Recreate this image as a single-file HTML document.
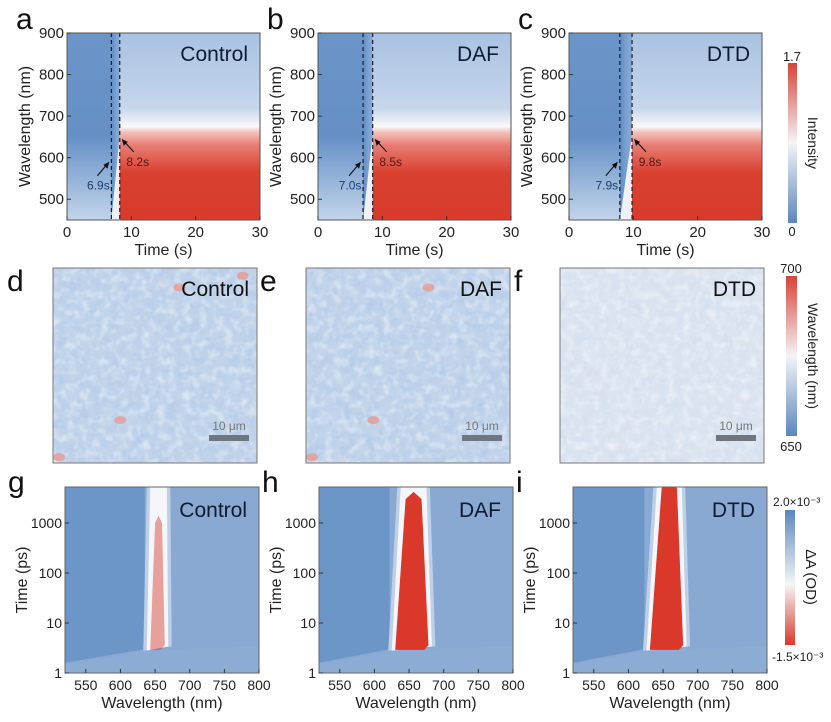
<!DOCTYPE html>
<html><head><meta charset="utf-8">
<style>
body{margin:0;background:#fff;width:831px;height:717px;overflow:hidden;font-family:"Liberation Sans",Arial,sans-serif;}
svg text{font-family:"Liberation Sans",Arial,sans-serif;}
</style></head>
<body>
<svg id="fig" width="831" height="717" xmlns="http://www.w3.org/2000/svg">
<defs>
  <linearGradient id="cbInt" x1="0" y1="1" x2="0" y2="0">
    <stop offset="0" stop-color="#5b86bd"/><stop offset="0.5" stop-color="#f4f4f6"/><stop offset="1" stop-color="#d8433a"/>
  </linearGradient>
  <linearGradient id="cbOD" x1="0" y1="1" x2="0" y2="0">
    <stop offset="0" stop-color="#d8392c"/><stop offset="0.45" stop-color="#f5f5f5"/><stop offset="1" stop-color="#5b86bd"/>
  </linearGradient>
  <linearGradient id="preGrad" x1="0" y1="0" x2="0" y2="1">
    <stop offset="0" stop-color="#6b95c8"/><stop offset="0.55" stop-color="#6590c6"/><stop offset="1" stop-color="#c2d4ea"/>
  </linearGradient>
  <linearGradient id="postGrad" x1="0" y1="0" x2="0" y2="1">
    <stop offset="0" stop-color="#a9c2e2"/><stop offset="0.4" stop-color="#c6d6ec"/><stop offset="0.5" stop-color="#fafafa"/>
    <stop offset="0.53" stop-color="#f3c2bc"/><stop offset="0.6" stop-color="#e87d73"/><stop offset="0.75" stop-color="#d9402f"/><stop offset="1" stop-color="#d83a2c"/>
  </linearGradient>
  <linearGradient id="taGrad" x1="0" y1="0" x2="1" y2="0">
    <stop offset="0" stop-color="#5f8cc4"/><stop offset="0.6" stop-color="#7ea3d2"/><stop offset="1" stop-color="#88aad4"/>
  </linearGradient>
  <filter id="noise1" x="0" y="0" width="100%" height="100%">
    <feTurbulence type="fractalNoise" baseFrequency="0.09" numOctaves="3" seed="3"/>
    <feColorMatrix type="matrix" values="0 0 0 0 0.45  0 0 0 0 0.6  0 0 0 0 0.82  0 0 0 1.8 -0.6"/>
  </filter>
  <filter id="noise1b" x="0" y="0" width="100%" height="100%">
    <feTurbulence type="fractalNoise" baseFrequency="0.12" numOctaves="2" seed="11"/>
    <feColorMatrix type="matrix" values="0 0 0 0 1  0 0 0 0 1  0 0 0 0 1  0 0 0 1.8 -0.8"/>
  </filter>
  <filter id="noise2" x="0" y="0" width="100%" height="100%">
    <feTurbulence type="fractalNoise" baseFrequency="0.09" numOctaves="3" seed="9"/>
    <feColorMatrix type="matrix" values="0 0 0 0 0.62  0 0 0 0 0.72  0 0 0 0 0.86  0 0 0 1.0 -0.35"/>
  </filter>
</defs>
</svg>
<script>
const panelLetters=['a','b','c'];
const sampleNames=['Control','DAF','DTD'];
const onsetTimes=[6.9,7.0,7.9];
const peakTimes=[8.2,8.5,9.8];
const redEdgeWl=[655,655,655];
const timeTicks=[0,10,20,30];
const wlTicks=[500,600,700,800,900];
const taLetters=['g','h','i'];
const bandLeftBottom=[643,630,631];
const bandRightBottom=[664,678,679];
const bandLeftTop=[650,645,648];
const bandRightTop=[660,668,670];
const bandTop=[1000,3000,5000];
const bandOpacity=[0.45,1,1];
const taWlTicks=[550,600,650,700,750,800];
const taTimeTicks=[1,10,100,1000];
const mapLetters=['d','e','f'];
const hotSpots=[[[0.62,0.1],[0.93,0.04],[0.03,0.97],[0.33,0.78]],[[0.6,0.1],[0.03,0.97],[0.33,0.78]],[]];

const svg=document.getElementById('fig');
const NS='http://www.w3.org/2000/svg';
function el(tag,attrs,parent,text){const e=document.createElementNS(NS,tag);for(const k in attrs)e.setAttribute(k,attrs[k]);if(text!==undefined)e.textContent=text;(parent||svg).appendChild(e);return e;}

// Row 1
const rowA={x0s:[67,318,569],w:193,y0:33,h:187};
for(let i=0;i<3;i++){
  const X0=rowA.x0s[i],W=rowA.w,Y0=rowA.y0,H=rowA.h;
  const xs=t=>X0+t/30*W, ys=w=>Y0+(900-w)/450*H;
  const g=el('g',{});
  
  
  let r=el('rect',{x:X0,y:Y0,width:xs(onsetTimes[i])-X0,height:H,fill:'url(#preGrad)'},g);
  
  r=el('rect',{x:xs(onsetTimes[i]),y:Y0,width:xs(peakTimes[i])-xs(onsetTimes[i]),height:H,fill:'url(#taGrad)'},g);
  
  el('polygon',{points:`${xs(onsetTimes[i])},${Y0+H} ${xs(peakTimes[i])},${ys(redEdgeWl[i])} ${xs(peakTimes[i])},${Y0+H}`,fill:'#eef2f8'},g);
  r=el('rect',{x:xs(peakTimes[i]),y:Y0,width:X0+W-xs(peakTimes[i]),height:H,fill:'url(#postGrad)'},g);
  
  [onsetTimes[i],peakTimes[i]].forEach(t=>{const l=el('line',{x1:xs(t),x2:xs(t),y1:Y0,y2:Y0+H,stroke:'#1a1a2a','stroke-width':1.2,'stroke-dasharray':'4,3'},g);});
  el('rect',{x:X0,y:Y0,width:W,height:H,fill:'none',stroke:'#555','stroke-width':1},g);
  timeTicks.forEach(t=>{el('line',{x1:xs(t),x2:xs(t),y1:Y0+H,y2:Y0+H-4,stroke:'#333'},g);el('text',{x:xs(t),y:Y0+H+17,'font-size':15,'text-anchor':'middle',fill:'#222'},g,t);});
  wlTicks.forEach(w=>{el('line',{x1:X0,x2:X0+4,y1:ys(w),y2:ys(w),stroke:'#333'},g);el('text',{x:X0-3,y:ys(w)+5,'font-size':15,'text-anchor':'end',fill:'#222'},g,w);});
  let t=el('text',{x:X0+W/2,y:Y0+H+35,'font-size':16,'text-anchor':'middle',fill:'#222'},g,'Time (s)');
  t=el('text',{x:X0-37,y:Y0+H/2,'font-size':16,'text-anchor':'middle',fill:'#222',transform:`rotate(-90 ${X0-37} ${Y0+H/2})`},g,'Wavelength (nm)');
  t=el('text',{x:X0+W-12,y:Y0+28,'font-size':21,'text-anchor':'end',fill:'#0d1b33'},g,sampleNames[i]);
  t=el('text',{x:X0-51,y:Y0-4,'font-size':30,fill:'#111'},g,panelLetters[i]);
  const ax=xs(onsetTimes[i]),ay=ys(595);
  el('line',{x1:ax-14,x2:ax-3,y1:ay+16,y2:ay+3,stroke:'#111','stroke-width':1.1},g);
  el('polygon',{points:`${ax-2},${ay+2} ${ax-8},${ay+5} ${ax-4},${ay+9}`,fill:'#111'},g);
  t=el('text',{x:ax-13,y:ay+30,'font-size':12,'text-anchor':'middle',fill:'#1c3e70'},g,onsetTimes[i].toFixed(1)+'s');
  const bx=xs(peakTimes[i]),by=ys(650);
  el('line',{x1:bx+14,x2:bx+3,y1:by+15,y2:by+3,stroke:'#111','stroke-width':1.1},g);
  el('polygon',{points:`${bx+2},${by+2} ${bx+8},${by+5} ${bx+4},${by+9}`,fill:'#111'},g);
  t=el('text',{x:bx+18,y:by+29,'font-size':12,'text-anchor':'middle',fill:'#5a1410'},g,peakTimes[i].toFixed(1)+'s');
}
let cb=el('rect',{x:788,y:63,width:9,height:160,fill:'url(#cbInt)'});
el('text',{x:792,y:61,'font-size':13,'text-anchor':'middle',fill:'#222'},svg,'1.7');
el('text',{x:792,y:236,'font-size':13,'text-anchor':'middle',fill:'#222'},svg,'0');
let ct=el('text',{x:808,y:143,'font-size':14,'text-anchor':'middle',fill:'#222',transform:'rotate(90 808 143)'},svg,'Intensity');

// Row 2 PL maps
const mapX=[53,306,560],mapY=268,mapS=204;
for(let i=0;i<3;i++){
  const X0=mapX[i];
  const g=el('g',{});
  
  
  el('rect',{x:X0,y:mapY,width:mapS,height:195,fill:i<2?'#c3d4ea':'#dbe4f0'},g);
  el('rect',{x:X0,y:mapY,width:mapS,height:195,fill:'#fff',filter:i<2?'url(#noise1)':'url(#noise2)'},g);
  el('rect',{x:X0,y:mapY,width:mapS,height:195,fill:'#fff',filter:'url(#noise1b)',opacity:0.6},g);
  hotSpots[i].forEach(p=>{const c=el('ellipse',{cx:X0+p[0]*mapS,cy:mapY+p[1]*195,rx:6,ry:4,fill:'#e8968c',opacity:0.75},g);});
  el('rect',{x:X0,y:mapY,width:mapS,height:195,fill:'none',stroke:'#777','stroke-width':1},g);
  let t=el('text',{x:X0+mapS-8,y:mapY+28,'font-size':21,'text-anchor':'end',fill:'#111'},g,sampleNames[i]);
  const sb=el('rect',{x:X0+mapS-48,y:mapY+167,width:40,height:6,fill:'#6f7680'},g);
  el('text',{x:X0+mapS-28,y:mapY+162,'font-size':12,'text-anchor':'middle',fill:'#777'},g,'10 μm');
  t=el('text',{x:X0-46,y:mapY+23,'font-size':30,fill:'#111'},g,mapLetters[i]);
}
cb=el('rect',{x:786,y:276,width:11,height:160,fill:'url(#cbInt)'});
el('text',{x:791,y:273,'font-size':13,'text-anchor':'middle',fill:'#222'},svg,'700');
el('text',{x:791,y:451,'font-size':13,'text-anchor':'middle',fill:'#222'},svg,'650');
ct=el('text',{x:808,y:356,'font-size':14,'text-anchor':'middle',fill:'#222',transform:'rotate(90 808 356)'},svg,'Wavelength (nm)');

// Row 3 TA
const taX=[65,319,573],taY=487,taW=194,taH=186;
for(let i=0;i<3;i++){
  const X0=taX[i];
  const xs=w=>X0+(w-520)/280*taW, ys=t=>taY+taH-Math.log10(t)*50;
  const g=el('g',{});
  
  
  const cid='clip'+i;
  const cp=el('clipPath',{id:cid},g);el('rect',{x:X0,y:taY,width:taW,height:taH},cp);
  const cg=el('g',{'clip-path':`url(#${cid})`},g);
  const lb=bandLeftBottom[i],rb=bandRightBottom[i],lt=bandLeftTop[i],rt=bandRightTop[i];
  el('rect',{x:X0,y:taY,width:taW,height:taH,fill:'#89a9d2'},cg);
  el('polygon',{points:`${X0},${taY} ${xs(lb-8)},${taY} ${xs(lb-8)},${ys(3)} ${X0},${ys(1.6)}`,fill:'#6c95c8'},cg);
  el('polygon',{points:`${X0},${ys(1.5)} ${xs(lb)},${ys(2.9)} ${X0+taW},${ys(3.4)} ${X0+taW},${taY+taH} ${X0},${taY+taH}`,fill:'#8dacd4'},cg);
  el('polygon',{points:`${xs(lb-10)},${ys(2.8)} ${xs(lt-12)},${taY} ${xs(rt+12)},${taY} ${xs(rb+10)},${ys(3.4)}`,fill:'#bdd0e8'},cg);
  el('polygon',{points:`${xs(lb-5)},${ys(2.8)} ${xs(lt-7)},${taY} ${xs(rt+7)},${taY} ${xs(rb+5)},${ys(3.4)}`,fill:'#f5f6f9'},cg);
  const mid=(lt+rt)/2;
  const band=el('polygon',{points:`${xs(lb)},${ys(2.9)} ${xs(lt)},${ys(bandTop[i])} ${xs(mid)},${ys(bandTop[i]*1.4)} ${xs(rt)},${ys(bandTop[i])} ${xs(rb)},${ys(3.6)} ${xs(rb-6)},${ys(2.9)}`,fill:'#d9382a',opacity:bandOpacity[i]},cg);
  
  el('rect',{x:X0,y:taY,width:taW,height:taH,fill:'none',stroke:'#666','stroke-width':1},g);
  taWlTicks.forEach(w=>{el('line',{x1:xs(w),x2:xs(w),y1:taY+taH,y2:taY+taH-4,stroke:'#333'},g);el('text',{x:xs(w),y:taY+taH+17,'font-size':14,'text-anchor':'middle',fill:'#222'},g,w);});
  taTimeTicks.forEach(t=>{el('line',{x1:X0,x2:X0+4,y1:ys(t),y2:ys(t),stroke:'#333'},g);el('text',{x:X0-3,y:ys(t)+5,'font-size':14,'text-anchor':'end',fill:'#222'},g,t);});
  let t=el('text',{x:X0+taW/2,y:taY+taH+35,'font-size':16,'text-anchor':'middle',fill:'#222'},g,'Wavelength (nm)');
  t=el('text',{x:X0-38,y:taY+taH/2,'font-size':16,'text-anchor':'middle',fill:'#222',transform:`rotate(-90 ${X0-38} ${taY+taH/2})`},g,'Time (ps)');
  t=el('text',{x:X0+taW-12,y:taY+30,'font-size':21,'text-anchor':'end',fill:'#0d1b33'},g,sampleNames[i]);
  t=el('text',{x:X0-57,y:taY+5,'font-size':30,fill:'#111'},g,taLetters[i]);
}
cb=el('rect',{x:785,y:510,width:10,height:135,fill:'url(#cbOD)'});
el('text',{x:773,y:506,'font-size':12,fill:'#222'},svg,'2.0×10⁻³');
el('text',{x:772,y:661,'font-size':12,fill:'#222'},svg,'-1.5×10⁻³');
ct=el('text',{x:806,y:577,'font-size':15,'text-anchor':'middle',fill:'#222',transform:'rotate(90 806 577)'},svg,'ΔA (OD)');
</script>
</body></html>
